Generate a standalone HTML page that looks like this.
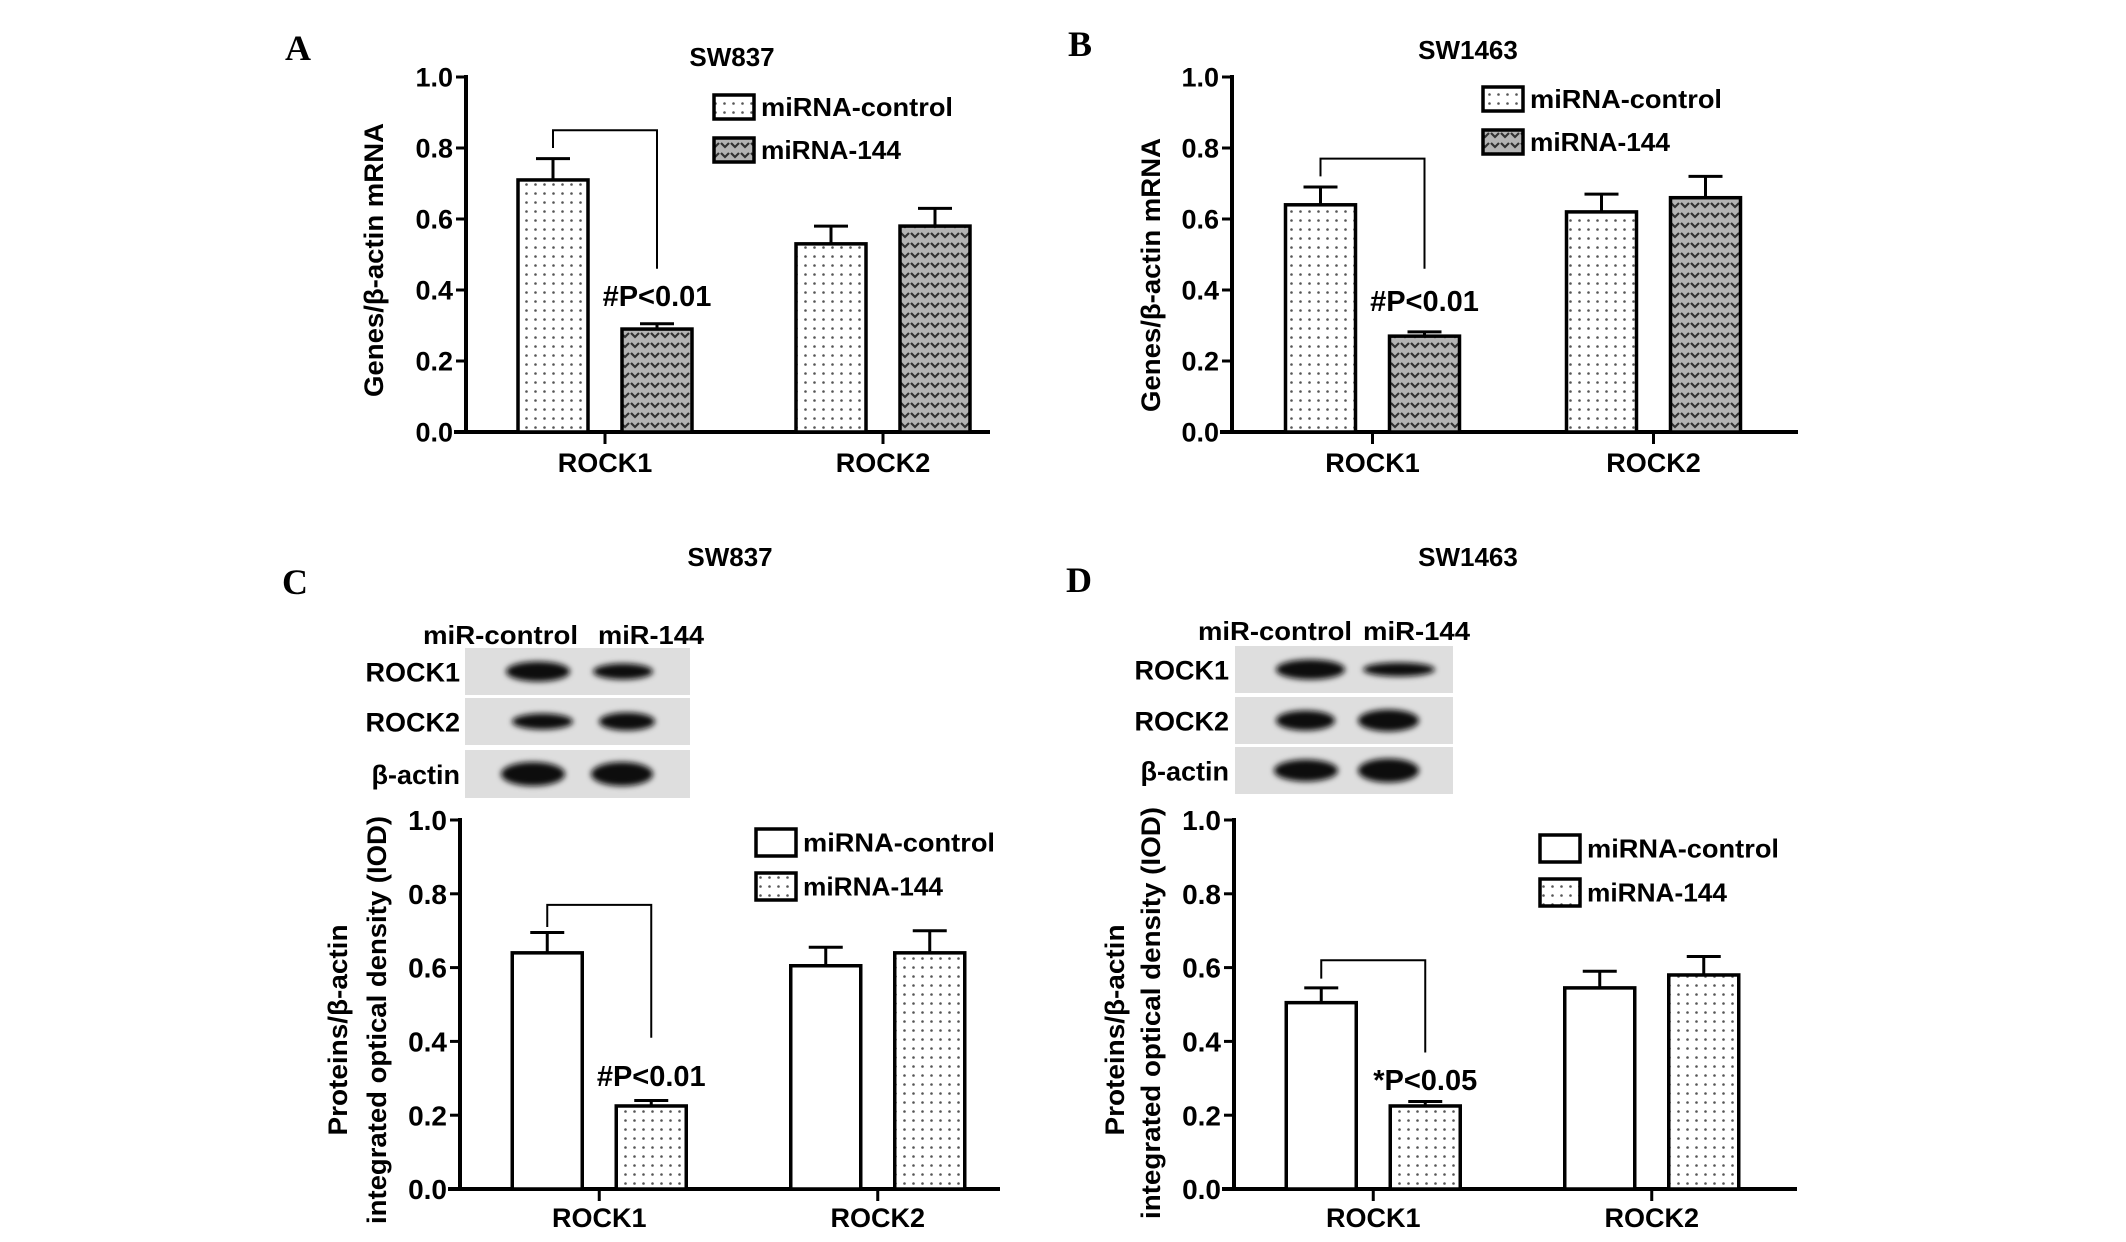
<!DOCTYPE html>
<html><head><meta charset="utf-8">
<style>
html,body{margin:0;padding:0;background:#fff;}
svg{display:block;font-family:"Liberation Sans",sans-serif;font-weight:bold;}
</style></head>
<body>
<svg id="fig" width="2126" height="1242" viewBox="0 0 2126 1242" xmlns="http://www.w3.org/2000/svg">
<defs>
  <pattern id="dots" width="9" height="9" patternUnits="userSpaceOnUse">
    <rect width="9" height="9" fill="#fff"/>
    <circle cx="4.5" cy="4.5" r="1.3" fill="#555"/>
  </pattern>
  <pattern id="hearts" width="10" height="10" patternUnits="userSpaceOnUse">
    <rect width="10" height="10" fill="#b4b4b4"/>
    <path d="M1 3 L5 7 L9 3" stroke="#333" stroke-width="2.2" fill="none"/>
  </pattern>
  <filter id="blur" x="-20%" y="-50%" width="140%" height="200%"><feGaussianBlur stdDeviation="3"/></filter>
</defs>
</svg>
<script>
const NS='http://www.w3.org/2000/svg';
const svg=document.getElementById('fig');

const categories=['ROCK1','ROCK2'];
const tickLabels=['0.0','0.2','0.4','0.6','0.8','1.0'];
const tickValues=[0,0.2,0.4,0.6,0.8,1.0];

const ctrlA=[0.71,0.53]; const ctrlErrA=[0.06,0.05];
const mirA=[0.29,0.58];  const mirErrA=[0.015,0.05];
const bracketA=[0.85,0.80,0.46];

const ctrlB=[0.64,0.62]; const ctrlErrB=[0.05,0.05];
const mirB=[0.27,0.66];  const mirErrB=[0.012,0.06];
const bracketB=[0.77,0.72,0.46];

const ctrlC=[0.64,0.605]; const ctrlErrC=[0.055,0.05];
const mirC=[0.225,0.64];  const mirErrC=[0.015,0.06];
const bracketC=[0.77,0.71,0.41];

const ctrlD=[0.505,0.545]; const ctrlErrD=[0.04,0.045];
const mirD=[0.225,0.58];   const mirErrD=[0.012,0.05];
const bracketD=[0.62,0.57,0.37];

function mk(tag,attrs,parent,text){
  const e=document.createElementNS(NS,tag);
  for(const k in attrs)e.setAttribute(k,attrs[k]);
  if(text!==undefined)e.textContent=text;
  (parent||svg).appendChild(e);return e;
}

function panel(p){
  const g=mk('g',{});
  
  
  const ys=v=>p.y0-(p.y0-p.y1)*v;
  const step=(p.xe-p.ax)/categories.length;
  const xc=i=>p.ax+(i+0.5)*step;
  const ya=mk('line',{x1:p.ax,y1:p.y1-2,x2:p.ax,y2:p.y0+2,stroke:'#000','stroke-width':4},g);
  
  
  const xa=mk('line',{x1:p.ax-12,y1:p.y0,x2:p.xl,y2:p.y0,stroke:'#000','stroke-width':4},g);
  
  
  tickValues.forEach((v,i)=>{
    mk('line',{x1:p.ax-10,y1:ys(v),x2:p.ax,y2:ys(v),stroke:'#000','stroke-width':3},g);
    const t=mk('text',{x:p.ax-13,y:ys(v)+p.tf*0.36,'text-anchor':'end','font-size':p.tf},g,tickLabels[i]);
    
    
  });
  categories.forEach((c,i)=>{
    mk('line',{x1:xc(i),y1:p.y0,x2:xc(i),y2:p.y0+12,stroke:'#000','stroke-width':3},g);
    const t=mk('text',{x:xc(i),y:p.catY,'text-anchor':'middle','font-size':27},g,c);
    
    
    const series=[[p.ctrl,p.ctrlErr,p.fillC,-87,'control'],[p.mir,p.mirErr,p.fillM,17,'mir144']];
    series.forEach(s=>{
      const v=s[0][i],e=s[1][i],x=xc(i)+s[3],w=70,cx=x+w/2;
      mk('line',{x1:cx,y1:ys(v),x2:cx,y2:ys(v+e),stroke:'#000','stroke-width':3},g);
      mk('line',{x1:cx-17,y1:ys(v+e),x2:cx+17,y2:ys(v+e),stroke:'#000','stroke-width':3},g);
      const r=mk('rect',{x:x,y:ys(v),width:w,height:ys(0)-ys(v),fill:s[2],stroke:'#000','stroke-width':3.5},g);
      
      
    });
  });
  const bx1=xc(0)-52,bx2=xc(0)+52;
  const br=mk('path',{d:`M${bx1} ${ys(p.br[1])} L${bx1} ${ys(p.br[0])} L${bx2} ${ys(p.br[0])} L${bx2} ${ys(p.br[2])}`,fill:'none',stroke:'#000','stroke-width':2},g);
  
  
  const sig=mk('text',{x:bx2,y:p.sigY,'text-anchor':'middle','font-size':29},g,p.sig);
  
  
  [[p.lg[0],p.fillC,'miRNA-control'],[p.lg[1],p.fillM,'miRNA-144']].forEach((l,k)=>{
    const b=mk('rect',{x:p.lgx,y:l[0],width:40,height:p.lh,fill:l[1],stroke:'#000','stroke-width':3.5},g);
    
    
    const t=mk('text',{x:p.lgx+47,y:l[0]+p.lh/2+9,'font-size':26,textLength:k?140:192,lengthAdjust:'spacingAndGlyphs'},g,l[2]);
    
    
  });
  const ti=mk('text',{x:p.tx,y:p.ty,'text-anchor':'middle','font-size':26},g,p.title);
  
  
  const le=mk('text',{x:p.lx,y:p.ly,'font-size':36,style:'font-family:"Liberation Serif",serif'},g,p.id);
  
  
  p.yt.forEach(y=>{
    const t=mk('text',{x:0,y:0,'text-anchor':'middle','font-size':27,textLength:y[3],lengthAdjust:'spacingAndGlyphs',transform:`translate(${y[0]},${y[1]}) rotate(-90)`,dy:10},g,y[2]);
    
    
  });
  return g;
}

panel({id:'A',ax:466,xe:1022,xl:990,y0:432,y1:77,tf:27,catY:472,ctrl:ctrlA,ctrlErr:ctrlErrA,mir:mirA,mirErr:mirErrA,br:bracketA,
  fillC:'url(#dots)',fillM:'url(#hearts)',sig:'#P<0.01',sigY:306,lg:[95,138],lh:24,lgx:714,title:'SW837',tx:732,ty:66,lx:285,ly:60,
  yt:[[373,260,'Genes/β-actin mRNA',274]]});
panel({id:'B',ax:1232,xe:1794,xl:1798,y0:432,y1:77,tf:27,catY:472,ctrl:ctrlB,ctrlErr:ctrlErrB,mir:mirB,mirErr:mirErrB,br:bracketB,
  fillC:'url(#dots)',fillM:'url(#hearts)',sig:'#P<0.01',sigY:311,lg:[87,130],lh:24,lgx:1483,title:'SW1463',tx:1468,ty:59,lx:1068,ly:56,
  yt:[[1150,275,'Genes/β-actin mRNA',274]]});
panel({id:'C',ax:460,xe:1017,xl:1000,y0:1189,y1:820,tf:28,catY:1227,ctrl:ctrlC,ctrlErr:ctrlErrC,mir:mirC,mirErr:mirErrC,br:bracketC,
  fillC:'#fff',fillM:'url(#dots)',sig:'#P<0.01',sigY:1086,lg:[829,873],lh:27,lgx:756,title:'SW837',tx:730,ty:566,lx:282,ly:594,
  yt:[[337,1030,'Proteins/β-actin',211],[376,1020,'integrated optical density (IOD)',408]]});
panel({id:'D',ax:1234,xe:1791,xl:1797,y0:1189,y1:820,tf:28,catY:1227,ctrl:ctrlD,ctrlErr:ctrlErrD,mir:mirD,mirErr:mirErrD,br:bracketD,
  fillC:'#fff',fillM:'url(#dots)',sig:'*P<0.05',sigY:1090,lg:[835,879],lh:27,lgx:1540,title:'SW1463',tx:1468,ty:566,lx:1066,ly:592,
  yt:[[1114,1030,'Proteins/β-actin',211],[1150,1013,'integrated optical density (IOD)',412]]});

function blot(id,bx,bw,rows,bands,labelRight,hdr){
  const g=mk('g',{});
  
  
  const names=['ROCK1','ROCK2','β-actin'];
  rows.forEach((r,i)=>{
    mk('rect',{x:bx,y:r[0],width:bw,height:r[1]-r[0],fill:'#dedede'},g);
    bands[i].forEach(b=>{
      mk('ellipse',{cx:(b[0]+b[1])/2,cy:(r[0]+r[1])/2,rx:(b[1]-b[0])/2,ry:b[2],fill:'#111',filter:'url(#blur)'},g);
    });
    const t=mk('text',{x:labelRight,y:(r[0]+r[1])/2+10,'text-anchor':'end','font-size':27},g,names[i]);
    
    
  });
  hdr.forEach(h=>{
    const t=mk('text',{x:h[0],y:h[1],'font-size':26,textLength:h[3],lengthAdjust:'spacingAndGlyphs'},g,h[2]);
    
    
  });
}
blot('C',465,225,[[648,695],[698,745],[750,798]],
  [[[506,570,10],[593,653,8]],[[512,573,8],[599,655,9]],[[501,565,12],[591,653,12]]],
  460,[[423,644,'miR-control',155],[598,644,'miR-144',106]]);
blot('D',1235,218,[[646,693],[697,744],[747,794]],
  [[[1276,1345,10],[1363,1435,7]],[[1276,1335,10],[1358,1419,11]],[[1274,1338,11],[1358,1419,12]]],
  1229,[[1198,640,'miR-control',154],[1363,640,'miR-144',107]]);
</script>
</body></html>
